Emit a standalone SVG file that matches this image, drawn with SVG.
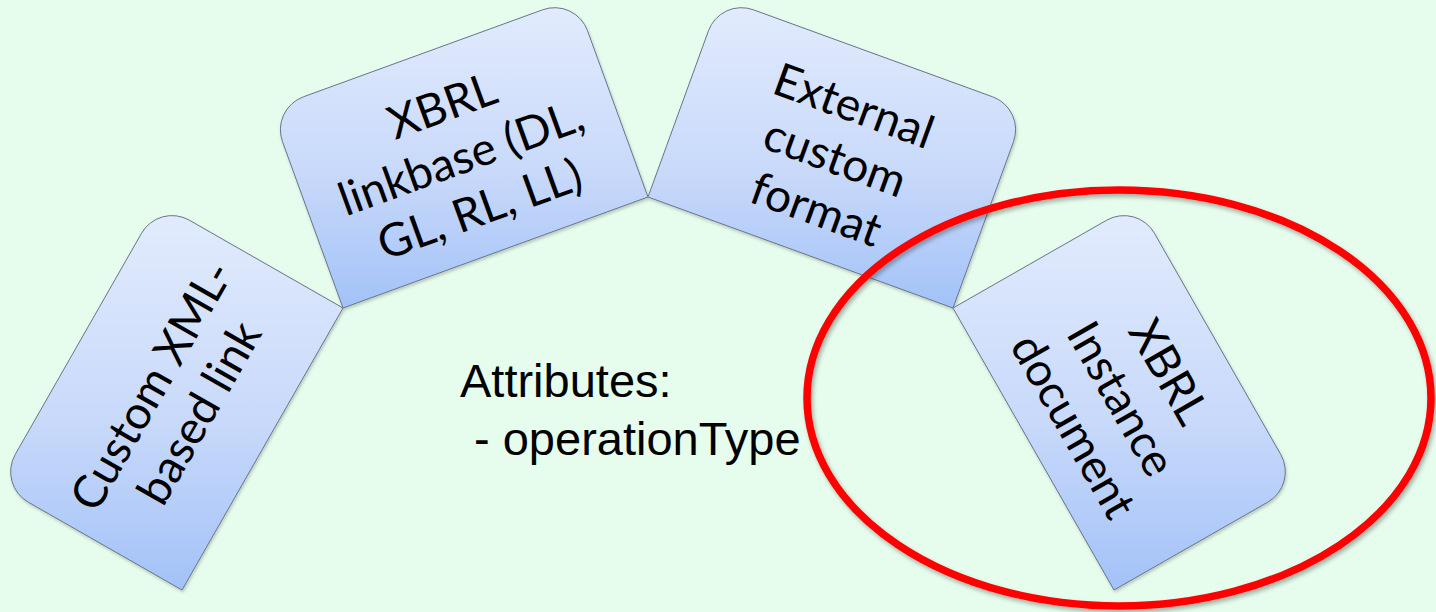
<svg xmlns="http://www.w3.org/2000/svg" width="1436" height="612" viewBox="0 0 1436 612">
  <defs>
    <linearGradient id="boxGrad" x1="0" y1="0" x2="0" y2="1">
      <stop offset="0" stop-color="#e2ebfd"/>
      <stop offset="0.55" stop-color="#c8d9fa"/>
      <stop offset="1" stop-color="#a3c2f8"/>
    </linearGradient>
    <filter id="shadow" x="-10%" y="-10%" width="120%" height="120%">
      <feDropShadow dx="2" dy="3" stdDeviation="2" flood-color="#000000" flood-opacity="0.3"/>
    </filter>
    <filter id="boxShadow" x="-10%" y="-10%" width="120%" height="120%">
      <feDropShadow dx="1" dy="2" stdDeviation="1.5" flood-color="#000000" flood-opacity="0.2"/>
    </filter>
  </defs>
  <style>
    .box { fill: url(#boxGrad); stroke: #66768c; stroke-width: 1; filter: url(#boxShadow); }
    .lbl { font-family: Lato, "Open Sans", "Liberation Sans", sans-serif; font-size: 46px; fill: #000000; text-anchor: middle; }
    .attr { font-family: "Liberation Sans", Arial, sans-serif; font-size: 47px; fill: #000000; }
    .ring { fill: none; stroke: #ff0000; stroke-width: 7.5; filter: url(#shadow); }
  </style>
  <rect x="0" y="0" width="1436" height="612" fill="#e6fcec"/>

  <g id="connectors"></g>

  <g id="node-custom-xml-link">
    <path class="box" d="M182,590 L343,308 L189.3,220.2 A35,35 0 0 0 141.5,233.3 L15.2,454.5 A35,35 0 0 0 28.3,502.2 Z"/>
    <g transform="translate(170.4,396.4) rotate(-60.27)">
      <text class="lbl" x="0" y="-6">Custom XML-</text>
      <text class="lbl" x="0" y="49">based link</text>
    </g>
  </g>

  <g id="node-xbrl-linkbase">
    <path class="box" d="M343,308 L648,197 L587.5,30.7 A35,35 0 0 0 542.6,9.8 L303.4,96.8 A35,35 0 0 0 282.5,141.7 Z"/>
    <g transform="translate(459.2,152.9) rotate(-20)">
      <text class="lbl" x="0" y="-34">XBRL</text>
      <text class="lbl" x="0" y="21">linkbase (DL,</text>
      <text class="lbl" x="0" y="76">GL, RL, LL)</text>
    </g>
  </g>

  <g id="node-external-custom-format">
    <path class="box" d="M648,197 L953,308 L1013.5,141.7 A35,35 0 0 0 992.6,96.8 L753.4,9.8 A35,35 0 0 0 708.5,30.7 Z"/>
    <g transform="translate(836.8,152.9) rotate(20)">
      <text class="lbl" x="0" y="-34">External</text>
      <text class="lbl" x="0" y="21">custom</text>
      <text class="lbl" x="0" y="76">format</text>
    </g>
  </g>

  <g id="node-xbrl-instance-document">
    <path class="box" d="M953,308 L1114,590 L1267.7,502.2 A35,35 0 0 0 1280.75,454.5 L1154.45,233.3 A35,35 0 0 0 1106.7,220.2 Z"/>
    <g transform="translate(1125.6,396.4) rotate(60.27)">
      <text class="lbl" x="0" y="-34">XBRL</text>
      <text class="lbl" x="0" y="21">Instance</text>
      <text class="lbl" x="0" y="76">document</text>
    </g>
  </g>

  <g id="attributes-note">
    <text class="attr" x="460" y="397">Attributes:</text>
    <text class="attr" x="474" y="455">- operationType</text>
  </g>

  <g id="highlight-ellipse">
    <ellipse class="ring" cx="1119" cy="398" rx="312" ry="208"/>
  </g>
</svg>
